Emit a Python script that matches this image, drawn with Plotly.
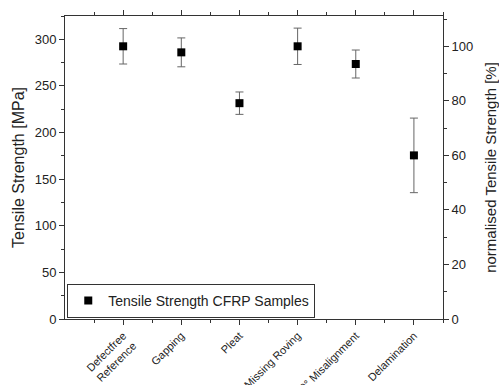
import plotly.graph_objects as go

categories = ["Defectfree<br>Reference", "Gapping", "Pleat", "Missing Roving", "10° Misalignment", "Delamination"]
strength = [292.5, 286.0, 231.5, 292.5, 273.5, 175.5]
err = [19.0, 15.5, 12.0, 19.5, 15.0, 40.0]
ref = 292.5
positions = list(range(len(categories)))

font = "Liberation Sans, Arial, sans-serif"
axc = "#333333"

fig = go.Figure()
fig.add_trace(go.Scatter(
    x=positions, y=strength, mode="markers",
    name="Tensile Strength CFRP Samples",
    marker=dict(symbol="square", size=8, color="black"),
    error_y=dict(type="data", array=err, visible=True, color="#666666", thickness=1, width=4),
))
# invisible trace carrying the normalised axis
fig.add_trace(go.Scatter(x=positions, y=[v / ref * 100 for v in strength], yaxis="y2",
                         mode="markers", marker=dict(opacity=0), showlegend=False, hoverinfo="skip"))

fig.update_layout(
    width=499, height=385,
    margin=dict(l=65, r=56, t=16, b=66),
    paper_bgcolor="white", plot_bgcolor="white",
    font=dict(family=font, color="#222222", size=13),
    showlegend=True,
    legend=dict(x=0.006, y=0.004, xanchor="left", yanchor="bottom",
                bgcolor="white", bordercolor=axc, borderwidth=1,
                font=dict(size=14), itemwidth=30, tracegroupgap=0),
    xaxis=dict(range=[-1, 5.5], tickmode="array", tickvals=positions, ticktext=categories,
               tickangle=-45, tickfont=dict(size=11), showgrid=False, zeroline=False, automargin=False,
               showline=True, linecolor=axc, linewidth=1, mirror="ticks",
               ticks="outside", ticklen=5, tickcolor=axc,
               minor=dict(tickmode="linear", tick0=-0.5, dtick=1, ticks="outside", ticklen=3, tickcolor=axc)),
    yaxis=dict(range=[0, 325], tickmode="linear", tick0=0, dtick=50, showgrid=False, zeroline=False,
               automargin=False,
               showline=True, linecolor=axc, linewidth=1, ticks="outside", ticklen=5, tickcolor=axc,
               title=dict(text="Tensile Strength [MPa]", font=dict(size=16), standoff=6),
               minor=dict(tickmode="linear", tick0=25, dtick=50, ticks="outside", ticklen=3, tickcolor=axc)),
    yaxis2=dict(range=[0, 325 / ref * 100], overlaying="y", side="right", tickmode="linear", tick0=0, dtick=20,
                showgrid=False, zeroline=False, showline=True, linecolor=axc, linewidth=1, automargin=False,
                ticks="outside", ticklen=5, tickcolor=axc,
                title=dict(text="normalised Tensile Strength [%]", font=dict(size=15), standoff=14),
                minor=dict(tickmode="linear", tick0=10, dtick=20, ticks="outside", ticklen=3, tickcolor=axc)),
)

fig.write_html("out.html")
